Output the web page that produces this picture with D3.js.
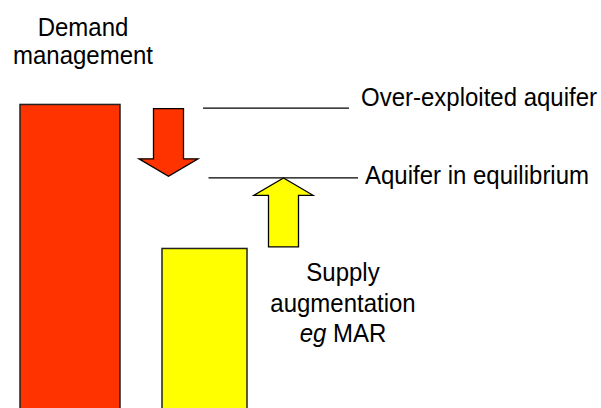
<!DOCTYPE html>
<html>
<head>
<meta charset="utf-8">
<script src="https://cdn.jsdelivr.net/npm/d3@7"></script>
<style>
	body { margin: 0; background: #fff; }
	svg { display: block; }
	text { font-family: "Liberation Sans", Arial, sans-serif; font-size: 24px; fill: #000; }
</style>
</head>
<body>
<div id="chart-area"><svg></svg></div>
<script>
const chartSize = { width: 601, height: 408 };

// bar values (water level units, 0 = bottom of picture)
const barNames = ["Demand", "Supply"];
const barValues = [74.4, 39.1];
const barColors = ["#ff3300", "#ffff00"];

// reference levels
const levelNames = ["Over-exploited aquifer", "Aquifer in equilibrium"];
const levelValues = [73.5, 56.4];

// arrows: from -> to
const arrowNames = ["demand", "supply"];
const arrowFrom = [73.4, 39.5];
const arrowTo = [56.8, 56.4];
const arrowColors = ["#ff3300", "#ffff00"];

const demandLabel = ["Demand", "management"];
const supplyLabel = ["Supply", "augmentation", "eg MAR"];

// layout
const barX = [[20, 120], [162, 247]];
const arrowX = [168.5, 283.5];
const lineX = [[203, 349], [208.5, 358]];
const labelX = [361, 365];
const labelDy = [-2, 6];
const stretch = 1.08; // glyphs in the original are a bit tall

const y = d3
	.scaleLinear()
	.domain([0, 100])
	.range([chartSize.height, 0]);

const arrowPath = (cx, from, to) => {
	const y0 = y(from);
	const y1 = y(to);
	const dir = y1 > y0 ? 1 : -1;
	const head = 17.4;
	const shaft = 15;
	const wing = 29.5;
	const yh = y1 - dir * head;
	return d3.line()([
		[cx - shaft, y0],
		[cx + shaft, y0],
		[cx + shaft, yh],
		[cx + wing, yh],
		[cx, y1],
		[cx - wing, yh],
		[cx - shaft, yh]
	]) + "Z";
};

const place = (x, yy) => `translate(${x},${yy}) scale(1,${stretch})`;

const drawChart = () => {
	const svg = d3
		.select("#chart-area svg")
		.attr("width", chartSize.width)
		.attr("height", chartSize.height);

	svg.selectAll(".bar")
		.data(barValues)
		.enter()
		.append("rect")
		.attr("class", "bar")
		.attr("x", (d, i) => barX[i][0])
		.attr("y", d => y(d))
		.attr("width", (d, i) => barX[i][1] - barX[i][0])
		.attr("height", d => y(0) - y(d) + 5)
		.attr("fill", (d, i) => barColors[i])
		.attr("stroke", "#222")
		.attr("stroke-width", 1.5);

	svg.selectAll(".level")
		.data(levelValues)
		.enter()
		.append("line")
		.attr("class", "level")
		.attr("x1", (d, i) => lineX[i][0])
		.attr("x2", (d, i) => lineX[i][1])
		.attr("y1", d => y(d))
		.attr("y2", d => y(d))
		.attr("stroke", "#000")
		.attr("stroke-width", 1.3);

	svg.selectAll(".level-label")
		.data(levelNames)
		.enter()
		.append("text")
		.attr("class", "level-label")
		.attr("transform", (d, i) => place(labelX[i], y(levelValues[i]) + labelDy[i]))
		.text(d => d);

	svg.selectAll(".arrow")
		.data(arrowNames)
		.enter()
		.append("path")
		.attr("class", "arrow")
		.attr("d", (d, i) => arrowPath(arrowX[i], arrowFrom[i], arrowTo[i]))
		.attr("fill", (d, i) => arrowColors[i])
		.attr("stroke", "#000")
		.attr("stroke-width", 1.3)
		.attr("stroke-linejoin", "miter");

	svg.selectAll(".demand-label")
		.data(demandLabel)
		.enter()
		.append("text")
		.attr("class", "demand-label")
		.attr("transform", (d, i) => place(83, 36 + i * 27.5))
		.attr("text-anchor", "middle")
		.text(d => d);

	const supplyY = [280.5, 311.5, 342];
	svg.selectAll(".supply-label")
		.data(supplyLabel)
		.enter()
		.append("text")
		.attr("class", "supply-label")
		.attr("text-anchor", "middle")
		.attr("transform", (d, i) => place(343, supplyY[i]))
		.each(function(d) {
			const t = d3.select(this);
			if (d.startsWith("eg ")) {
				t.append("tspan").attr("font-style", "italic").text("eg");
				t.append("tspan").text(" " + d.slice(3));
			} else {
				t.text(d);
			}
		});
};

window.onload = drawChart;
</script>
</body>
</html>
